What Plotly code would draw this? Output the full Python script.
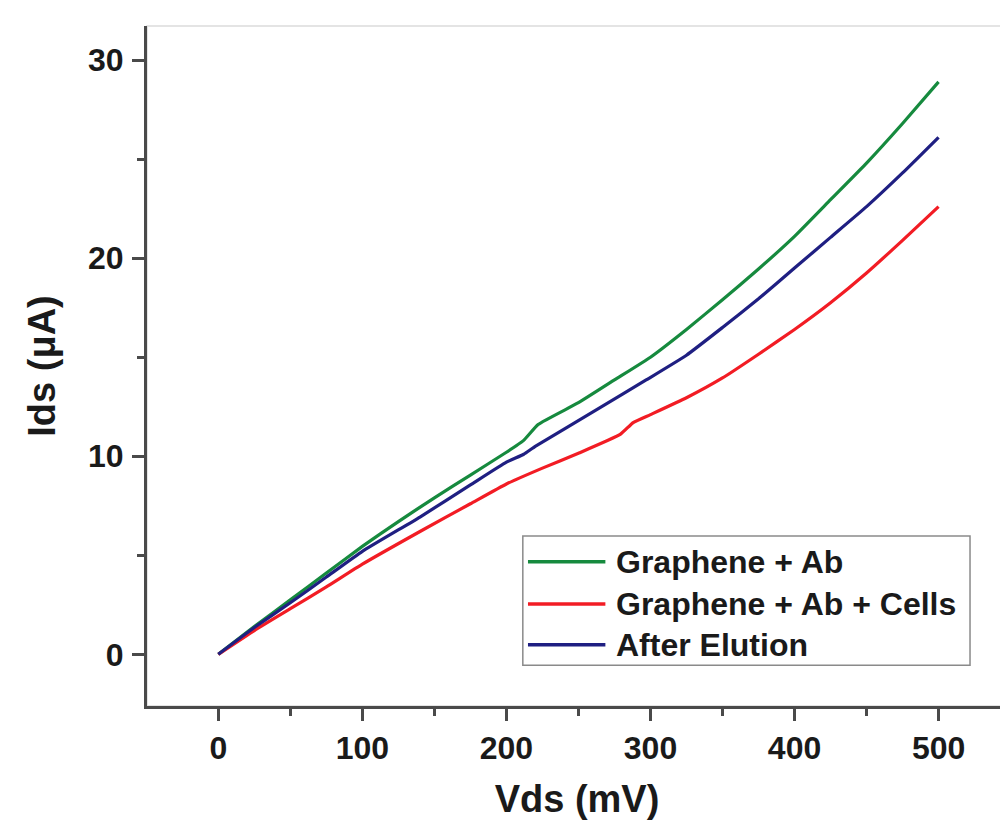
import plotly.graph_objects as go

# ---------------------------------------------------------
# data (Vds in mV, Ids in uA)
# ---------------------------------------------------------

vds_ab = [0, 25, 50, 75, 100, 125, 150, 175, 200, 212, 222, 250,
          275, 300, 325, 350, 375, 400, 425, 450, 475, 500]
ids_ab = [0, 1.4, 2.75, 4.1, 5.45, 6.7, 7.9, 9.05, 10.2, 10.8, 11.6, 12.7,
          13.85, 15.0, 16.4, 17.9, 19.45, 21.1, 22.95, 24.8, 26.8, 28.9]

vds_cells = [0, 25, 50, 75, 100, 140, 175, 200, 225, 250,
             279, 288, 300, 325, 350, 375, 400, 425, 450, 475, 500]
ids_cells = [0, 1.2, 2.3, 3.4, 4.55, 6.2, 7.6, 8.6, 9.4, 10.15,
             11.1, 11.7, 12.1, 12.95, 13.95, 15.15, 16.4, 17.75, 19.25, 20.9, 22.6]

vds_elution = [0, 25, 50, 75, 100, 140, 175, 200, 212, 220, 265,
               297, 325, 350, 375, 400, 425, 450, 475, 500]
ids_elution = [0, 1.35, 2.6, 3.9, 5.2, 6.93, 8.55, 9.7, 10.1, 10.5, 12.45,
               13.85, 15.1, 16.5, 17.95, 19.5, 21.05, 22.6, 24.3, 26.1]

names = ["Graphene + Ab", "Graphene + Ab + Cells", "After Elution"]

GREEN = "#168a3e"
RED = "#f21c24"
BLUE = "#1f1f82"
AXIS = "#4a4a4a"
TEXT = "#1a1a1a"
FONT = "Liberation Sans, Arial, sans-serif"


fig = go.Figure()

series = [
    (vds_ab, ids_ab, names[0], GREEN),
    (vds_cells, ids_cells, names[1], RED),
    (vds_elution, ids_elution, names[2], BLUE),
]

for x, y, name, color in series:
    fig.add_trace(
        go.Scatter(
            x=x,
            y=y,
            name=name,
            mode="lines",
            line=dict(color=color, width=3.2, shape="spline", smoothing=0.4),
            showlegend=False,
        )
    )

# faint top / right frame
fig.add_shape(
    type="rect", xref="paper", yref="paper",
    x0=0, y0=0, x1=1, y1=1,
    line=dict(color="#dcdcdc", width=1.5),
    layer="below",
)

# legend box drawn by hand (longer line samples than plotly's)
LEG_X0, LEG_X1 = 0.437, 0.957
LEG_Y0, LEG_Y1 = 0.06, 0.25
fig.add_shape(
    type="rect", xref="paper", yref="paper",
    x0=LEG_X0, y0=LEG_Y0, x1=LEG_X1, y1=LEG_Y1,
    line=dict(color="#8a8a8a", width=1.5),
    fillcolor="white",
)

row_y = [0.212, 0.150, 0.090]
for (x, y, name, color), ry in zip(series, row_y):
    fig.add_shape(
        type="line", xref="paper", yref="paper",
        x0=0.443, x1=0.533, y0=ry, y1=ry,
        line=dict(color=color, width=3.5),
    )
    fig.add_annotation(
        xref="paper", yref="paper",
        x=0.543, y=ry, xanchor="left", yanchor="middle",
        text=f"<b>{name}</b>", showarrow=False,
        font=dict(family=FONT, size=32, color=TEXT),
    )

fig.update_xaxes(
    range=[-49.5, 547.5],
    tickvals=[0, 100, 200, 300, 400, 500],
    ticks="outside",
    ticklen=12,
    tickwidth=2.5,
    tickcolor=AXIS,
    minor=dict(dtick=50, tick0=0, ticks="outside", ticklen=7,
               tickwidth=2.5, tickcolor=AXIS),
    showline=True,
    linecolor=AXIS,
    linewidth=3,
    showgrid=False,
    zeroline=False,
    automargin=False,
    tickfont=dict(family=FONT, size=32, color=TEXT, weight="bold"),
    title=dict(text="<b>Vds (mV)</b>", font=dict(family=FONT, size=38, color=TEXT),
               standoff=20),
)

fig.update_yaxes(
    range=[-2.61, 31.72],
    tickvals=[0, 10, 20, 30],
    ticks="outside",
    ticklen=12,
    tickwidth=2.5,
    tickcolor=AXIS,
    minor=dict(dtick=5, tick0=0, ticks="outside", ticklen=7,
               tickwidth=2.5, tickcolor=AXIS),
    showline=True,
    linecolor=AXIS,
    linewidth=3,
    showgrid=False,
    zeroline=False,
    automargin=False,
    ticklabelstandoff=2,
    tickfont=dict(family=FONT, size=32, color=TEXT, weight="bold"),
    title=dict(text="<b>Ids (μA)</b>", font=dict(family=FONT, size=38, color=TEXT),
               standoff=21),
)

# the page body adds an 8px offset, so the figure is 8px smaller
fig.update_layout(
    width=1000,
    height=823,
    margin=dict(l=139, r=1, t=18, b=125),
    paper_bgcolor="white",
    plot_bgcolor="white",
    showlegend=False,
)

fig.write_html("out.html")
